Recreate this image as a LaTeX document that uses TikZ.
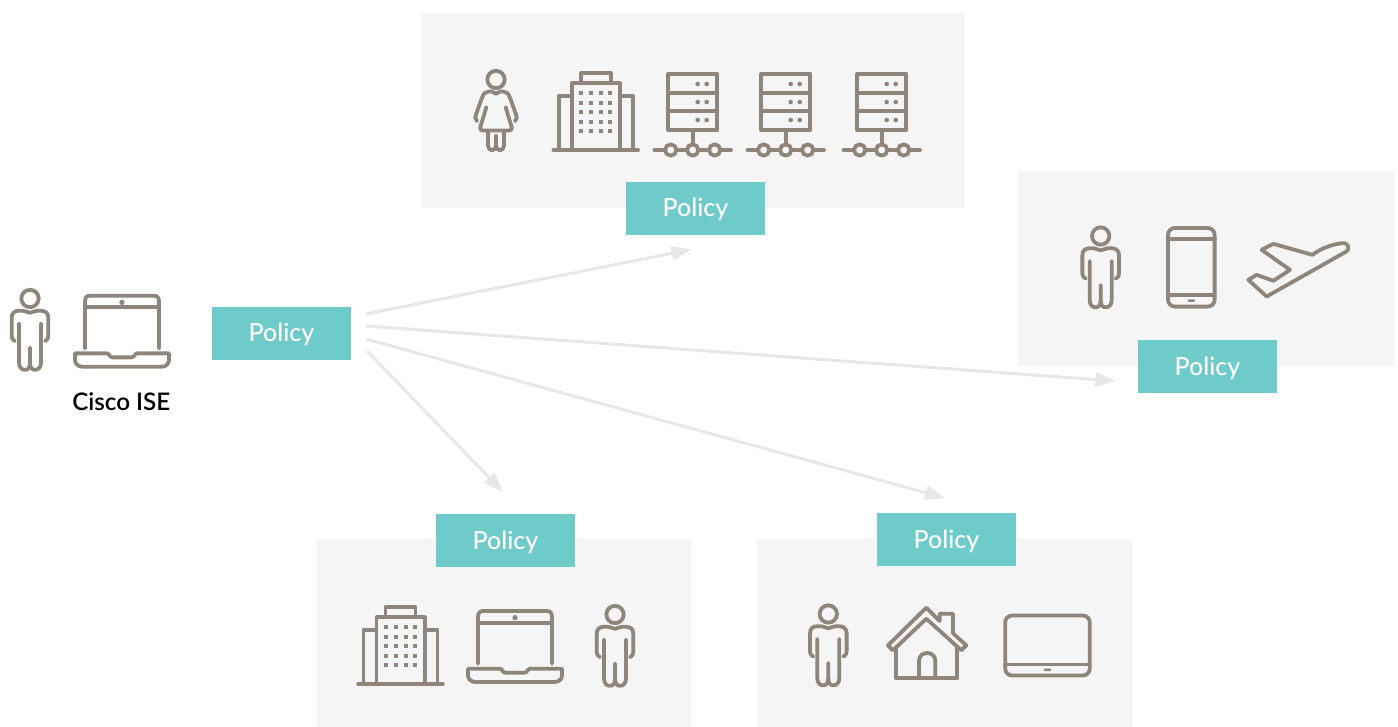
\documentclass[tikz,border=0pt]{standalone}
\usepackage{fontspec}
\setmainfont{Lato}
\newfontfamily\labelfont{Lato Medium}
\newfontfamily\captionfont{Lato Semibold}
\usetikzlibrary{arrows.meta}
\definecolor{panelc}{HTML}{F5F5F5}
\definecolor{tealc}{HTML}{6FCACA}
\definecolor{iconc}{HTML}{8E857D}
\definecolor{arrowc}{HTML}{E7E7E4}
\tikzset{
  x=1pt,y=-1pt,
  panel/.style={fill=panelc,draw=none},
  policy/.style={fill=tealc,draw=none,text=white,minimum width=139pt,minimum height=53pt,inner sep=0pt,text height=21pt,text depth=4pt,font=\fontsize{25}{28}\selectfont\labelfont},
  flow/.style={draw=arrowc,line width=3pt,-{Triangle[length=20pt,width=14pt]}},
  icon/.style={draw=iconc,line width=3.8pt,line cap=round,line join=round,x=0.3333pt,y=-0.3333pt},
  personm/.pic={
    \begin{scope}[icon]
    \draw (0,0) circle[radius=26];
    \draw (-33,75) -- (-33,192) .. controls (-33,207) and (-25,214) .. (-15,214) .. controls (-5,214) and (0,207) .. (0,192) -- (0,147);
    \draw (0,192) .. controls (0,207) and (5,214) .. (15,214) .. controls (25,214) and (33,207) .. (33,192) -- (33,75);
    \draw (-45,128) .. controls (-54,122) and (-55,118) .. (-55,112) -- (-55,58) .. controls (-55,44) and (-46,37) .. (-35,37) -- (-20,37) .. controls (-10,37) and (-8,43) .. (0,43) .. controls (8,43) and (10,37) .. (20,37) -- (35,37) .. controls (46,37) and (55,44) .. (55,58) -- (55,112) .. controls (55,118) and (54,122) .. (45,128);
    \end{scope}},
  personf/.pic={
    \begin{scope}[icon]
    \draw (0,0) circle[radius=26];
    \draw (-57,125) .. controls (-64,118) and (-63,112) .. (-60,105) -- (-42,55) .. controls (-37,40) and (-30,36) .. (-20,36) -- (-12,36) .. controls (-7,36) and (-4,43) .. (0,43) .. controls (4,43) and (7,36) .. (12,36) -- (20,36) .. controls (30,36) and (37,40) .. (42,55) -- (60,105) .. controls (63,112) and (64,118) .. (57,125);
    \draw (-29,83) -- (-47,143) .. controls (-49,150) and (-46,153) .. (-40,153) -- (40,153) .. controls (46,153) and (49,150) .. (47,143) -- (29,83);
    \draw (-24,158) -- (-24,198) .. controls (-24,217) and (0,217) .. (0,198) -- (0,168) (0,198) .. controls (0,217) and (24,217) .. (24,198) -- (24,158);
    \end{scope}},
  building/.pic={
    \begin{scope}[icon]
    \draw (-127,0) -- (127,0);
    \draw (-72,0) -- (-72,-200) -- (73,-200) -- (73,0);
    \draw (-45,-200) -- (-45,-230) -- (45,-230) -- (45,-200);
    \draw (-72,-163) -- (-111,-163) -- (-111,0);
    \draw (73,-163) -- (111,-163) -- (111,0);
    \foreach \u in {-44,-14,15,44} \foreach \v in {-170,-141,-113,-84,-56}
      \fill[iconc] (\u-6,\v-6) rectangle (\u+6,\v+6);
    \end{scope}},
  server/.pic={
    \begin{scope}[icon]
    \draw (-73,-228) rectangle (74,-60);
    \draw (-73,-171) -- (74,-171) (-73,-116) -- (74,-116);
    \foreach \v in {-198,-144,-90} {
      \fill[iconc] (15,\v) circle[radius=7];
      \fill[iconc] (42,\v) circle[radius=7];
    }
    \draw (0,-60) -- (0,-18);
    \draw (-115,0) -- (115,0);
    \foreach \u in {-66,0,66} \filldraw[fill=panelc] (\u,0) circle[radius=17];
    \end{scope}},
  laptop/.pic={
    \begin{scope}[icon]
    \draw (-111,-55) -- (-111,-195) .. controls (-111,-207) and (-106,-213) .. (-96,-213) -- (96,-213) .. controls (106,-213) and (111,-207) .. (111,-195) -- (111,-55);
    \draw[line cap=butt] (-111,-178) -- (111,-178);
    \fill[iconc] (0,-193) circle[radius=8];
    \draw (-141,-40) -- (-45,-40) .. controls (-38,-40) and (-38,-28) .. (-28,-28) -- (28,-28) .. controls (38,-28) and (38,-40) .. (45,-40) -- (141,-40) -- (141,-20) .. controls (141,-8) and (131,0) .. (119,0) -- (-119,0) .. controls (-131,0) and (-141,-8) .. (-141,-20) -- cycle;
    \end{scope}},
  phone/.pic={
    \begin{scope}[icon]
    \draw[rounded corners=7pt] (-70,-118) rectangle (70,118);
    \draw (-70,-85) -- (70,-85) (-70,83) -- (70,83);
    \fill[iconc,rounded corners=1pt] (-11,96) rectangle (11,104);
    \end{scope}},
  tablet/.pic={
    \begin{scope}[icon]
    \draw[rounded corners=7pt] (-127,-90) rectangle (127,90);
    \draw (-127,57) -- (127,57);
    \fill[iconc,rounded corners=1pt] (-11,69) rectangle (11,77);
    \end{scope}},
  plane/.pic={
    \begin{scope}[icon]
    \draw (-289,-110) -- (-254,-128) -- (-137,-95) .. controls (-95,-125) and (-55,-130) .. (-42,-130) .. controls (-28,-130) and (-22,-110) .. (-40,-102) -- (-274,30) -- (-329,-20) -- (-304,-35) -- (-254,-17) -- (-204,-50) -- cycle;
    \end{scope}},
  house/.pic={
    \begin{scope}[icon]
    \draw (-117,-47) -- (-2,-160) -- (38,-120) -- (38,-142) -- (78,-142) -- (78,-83) -- (118,-47) -- (103,-32) -- (-2,-127) -- (-102,-32) -- cycle;
    \draw (-92,-40) -- (-92,52) -- (91,52) -- (91,-40);
    \draw (-24,52) -- (-24,0) .. controls (-24,-32) and (25,-32) .. (25,0) -- (25,52);
    \end{scope}}
}
\begin{document}
\begin{tikzpicture}
\useasboundingbox (0,0) rectangle (1398,727);
% panels
\fill[panel] (421,13) rectangle (965,208);
\fill[panel] (1018,171) rectangle (1394,366);
\fill[panel] (316,539) rectangle (692,727);
\fill[panel] (757,539) rectangle (1133,727);
% policy tags
\node[policy] (polsrc) at (281.5,333.5) {Policy};
\node[policy] (poltop) at (695.5,208.5) {Policy};
\node[policy] (polright) at (1207.5,366.5) {Policy};
\node[policy] (polleft) at (505.5,540.5) {Policy};
\node[policy] (polmid) at (946.5,539.5) {Policy};
% connectors
\coordinate (s1) at (366,314); \coordinate (e1) at (691.5,249.5);
\coordinate (s2) at (366,326); \coordinate (e2) at (1115.5,381);
\coordinate (s3) at (366,339); \coordinate (e3) at (945,498);
\coordinate (s4) at (367,351); \coordinate (e4) at (503,492);
\draw[flow] (s1) -- (e1);
\draw[flow] (s2) -- (e2);
\draw[flow] (s3) -- (e3);
\draw[flow] (s4) -- (e4);
% source
\pic at (30,298.5) {personm};
\pic at (122,366.7) {laptop};
\node[font=\fontsize{24.2}{28}\selectfont\captionfont,text=black,inner sep=0pt] (ciscolabel) at (121.3,401.5) {Cisco ISE};
% top panel
\pic at (496,79.5) {personf};
\pic at (595.7,150) {building};
\pic at (692.7,150) {server};
\pic at (785.7,150) {server};
\pic at (881.7,150) {server};
% right panel
\pic at (1100.7,236) {personm};
\pic at (1191.3,267.3) {phone};
\pic at (1358,286.5) {plane};
% bottom left
\pic at (400.5,684) {building};
\pic at (515,682) {laptop};
\pic at (615,614.5) {personm};
% bottom right
\pic at (828.3,614) {personm};
\pic at (927,661) {house};
\pic at (1047.5,645.5) {tablet};
\end{tikzpicture}
\end{document}
